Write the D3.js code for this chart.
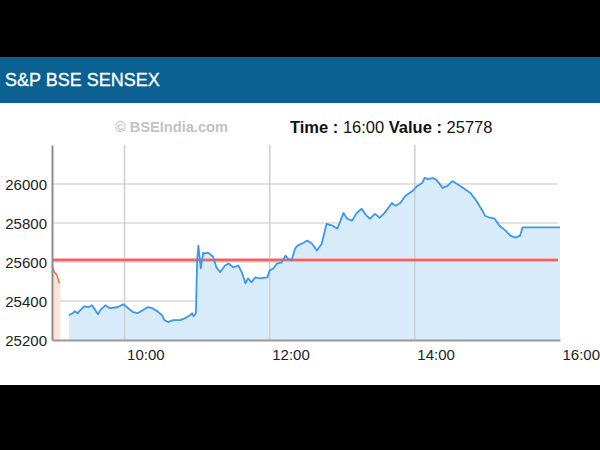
<!DOCTYPE html>
<html><head><meta charset="utf-8">
<script src="https://cdn.jsdelivr.net/npm/d3@7"></script>
<style>
html,body{margin:0;padding:0;background:#000;}
svg{display:block;}
</style></head>
<body>
<svg id="c" width="600" height="450"></svg>
<script>
const title = "S&P BSE SENSEX";
const watermark = "© BSEIndia.com";
const infoTime = "16:00";
const infoValue = "25778";
const prevClose = 25610;
const yTicks = [25200, 25400, 25600, 25800, 26000];
const xTicks = ["10:00", "12:00", "14:00", "16:00"];
const xDomain = ["09:00", "16:00"];
const yDomain = [25200, 26200];

const prevTimes = ["09:00", "09:02", "09:04", "09:06"];
const prevValues = [25583, 25547, 25535, 25490];

const times = ["09:14","09:17","09:19","09:21","09:25","09:27","09:30","09:33","09:36","09:38","09:40","09:44","09:48","09:54","09:59",
"10:03","10:07","10:11","10:15","10:19","10:23","10:27","10:31","10:33","10:36","10:40","10:46","10:50","10:54","10:56","10:57","10:59",
"11:00","11:01","11:03","11:05","11:06","11:09","11:13","11:16","11:19","11:23","11:26","11:30","11:34","11:37","11:40","11:42","11:45","11:48","11:52","11:58",
"12:00","12:03","12:06","12:10","12:13","12:15","12:18","12:21","12:23","12:28","12:31","12:35","12:39","12:43","12:47","12:52","12:56",
"13:01","13:04","13:08","13:12","13:16","13:20","13:23","13:27","13:31","13:35","13:41","13:44","13:48","13:52","13:58",
"14:02","14:06","14:08","14:11","14:15","14:18","14:23","14:27","14:31","14:35","14:40","14:46","14:51","14:56","14:58",
"15:02","15:06","15:10","15:15","15:19","15:23","15:27","15:29","16:00"];
const values = [25327,25337,25348,25337,25363,25373,25368,25378,25352,25332,25353,25378,25363,25368,25383,
25363,25343,25338,25353,25368,25363,25348,25327,25302,25292,25302,25302,25312,25327,25337,25322,25337,
25608,25684,25567,25648,25643,25648,25628,25572,25547,25582,25592,25572,25582,25547,25490,25516,25496,25521,25516,25521,
25557,25567,25592,25598,25633,25618,25608,25669,25684,25699,25710,25694,25659,25694,25796,25786,25771,
25852,25822,25812,25852,25873,25837,25822,25847,25827,25852,25903,25888,25903,25939,25964,
25990,26005,26031,26025,26031,26020,25980,25990,26015,26000,25980,25954,25913,25862,25837,
25827,25822,25786,25761,25735,25725,25735,25778,25778];

const svg = d3.select("#c");
const font = "'Liberation Sans', Arial, sans-serif";

// panels
svg.append("rect").attr("x",0).attr("y",57).attr("width",600).attr("height",46).attr("fill","#0b6192");
svg.append("rect").attr("x",0).attr("y",103).attr("width",600).attr("height",282).attr("fill","#fff");
svg.append("text").attr("x",5).attr("y",86).attr("fill","#fff").attr("font-family",font).attr("font-size",18)
  .attr("stroke","#fff").attr("stroke-width",0.3).text(title);

svg.append("text").attr("x",115).attr("y",132).attr("fill","#c2c2c2").attr("font-family",font).attr("font-size",14.6).attr("font-weight","bold").text(watermark);
const info = svg.append("text").attr("x",290).attr("y",133).attr("fill","#111").attr("font-family",font).attr("font-size",16.5);
info.append("tspan").attr("font-weight","bold").text("Time : ");
info.append("tspan").text(infoTime + " ");
info.append("tspan").attr("font-weight","bold").text("Value : ");
info.append("tspan").text(infoValue);

const parse = d3.timeParse("%H:%M");
const x = d3.scaleTime().domain(xDomain.map(parse)).range([52, 560]);
const y = d3.scaleLinear().domain(yDomain).range([340, 145]);

const g = svg.append("g");

// horizontal grid
g.selectAll("line.hg").data(yTicks.filter(d=>d>yDomain[0])).enter().append("line")
  .attr("x1",52).attr("x2",558).attr("y1",d=>y(d)).attr("y2",d=>y(d))
  .attr("stroke","#e2e2e2").attr("stroke-width",2);

const data = times.map((t,i)=>({t:parse(t), v:values[i]}));
const prev = prevTimes.map((t,i)=>({t:parse(t), v:prevValues[i]}));

const area = d3.area().x(d=>x(d.t)).y0(y(yDomain[0])).y1(d=>y(d.v));
const line = d3.line().x(d=>x(d.t)).y(d=>y(d.v));

g.append("path").datum(prev.concat([{t:d3.timeMinute.offset(prev[prev.length-1].t,1), v:prevValues[prevValues.length-1]}]))
  .attr("d", area).attr("fill","#fde3da");
g.append("path").datum(data).attr("d", area).attr("fill","#d8ebfb");

// vertical grid
g.selectAll("line.vg").data(xTicks.slice(0,3)).enter().append("line")
  .attr("x1",d=>x(parse(d))).attr("x2",d=>x(parse(d))).attr("y1",145).attr("y2",340)
  .attr("stroke","#cfcfcf").attr("stroke-width",1.5);

// prev close line
g.append("line").attr("x1",52).attr("x2",558).attr("y1",y(prevClose)).attr("y2",y(prevClose))
  .attr("stroke","#f7b0b0").attr("stroke-width",4);
g.append("line").attr("x1",52).attr("x2",558).attr("y1",y(prevClose)).attr("y2",y(prevClose))
  .attr("stroke","#ee4a4a").attr("stroke-width",1.5);

g.append("path").datum(prev).attr("d", line).attr("fill","none").attr("stroke","#e8743b").attr("stroke-width",1.5);
g.append("path").datum(data).attr("d", line).attr("fill","none").attr("stroke","#3d97ec").attr("stroke-width",1.8).attr("stroke-linejoin","round");

// axes
const yAxis = d3.axisLeft(y).tickValues(yTicks).tickSize(0).tickPadding(5).tickFormat(d3.format("d"));
const ya = svg.append("g").attr("transform","translate(52,0)").call(yAxis);
ya.select(".domain").attr("stroke","#8c8c8c").attr("stroke-width",2);
ya.selectAll("text").attr("font-family",font).attr("font-size",15).attr("fill","#222").attr("dy","0.35em");

const xAxis = d3.axisBottom(x).tickValues(xTicks.map(parse)).tickSize(0).tickFormat(d3.timeFormat("%H:%M"));
const xa = svg.append("g").attr("transform","translate(0,340)").call(xAxis);
xa.select(".domain").attr("stroke","#9a9a9a").attr("stroke-width",2);
xa.selectAll("text").attr("font-family",font).attr("font-size",15).attr("fill","#222")
  .attr("text-anchor","start").attr("dx",2).attr("y",20).attr("dy","0");
</script>
</body></html>
